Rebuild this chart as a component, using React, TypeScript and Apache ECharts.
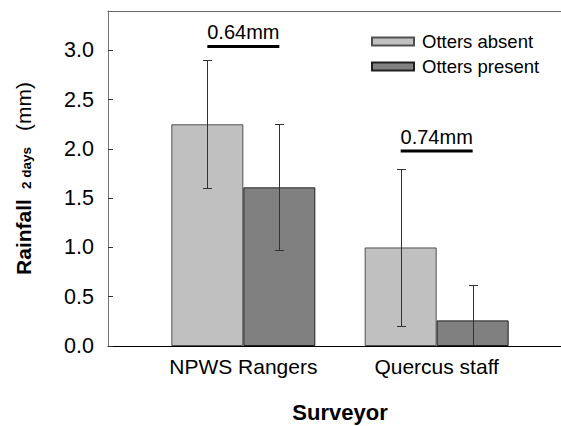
import React, { useEffect, useRef } from 'react';
import * as echarts from 'echarts';

// Surveyor groups, placed at x = 1, 2 on the base axis
const categories = ['NPWS Rangers', 'Quercus staff'];
const categoryPositions = [1, 2];

// Mean two-day rainfall (mm) and error bar extents
const absentMean = [2.25, 1.0];
const absentLower = [1.6, 0.2];
const absentUpper = [2.9, 1.8];
const presentMean = [1.61, 0.26];
const presentLower = [0.97, -0.1];
const presentUpper = [2.25, 0.62];

// Difference brackets between the two bars of each group
const differenceLabels = ['0.64mm', '0.74mm'];
const differenceLevels = [3.04, 1.98];

const yTicks = [0, 0.5, 1, 1.5, 2, 2.5, 3];

const BAR_WIDTH = 72;
const FONT = '"Liberation Sans", Arial, Helvetica, sans-serif';

const crisp = (v: number) => Math.round(v) + 0.5;

function errorBarRenderer(offset: number, color: string) {
  return (params: any, api: any) => {
    const x = api.value(0);
    const lo = api.coord([x, api.value(1)]);
    const hi = api.coord([x, api.value(2)]);
    const cx = crisp(lo[0] + offset);
    const yLo = crisp(lo[1]);
    const yHi = crisp(hi[1]);
    const cap = 4.5;
    const style = { stroke: color, lineWidth: 1 };
    return {
      type: 'group',
      children: [
        { type: 'line', shape: { x1: cx, y1: yLo, x2: cx, y2: yHi }, style },
        { type: 'line', shape: { x1: cx - cap, y1: yHi, x2: cx + cap, y2: yHi }, style },
        { type: 'line', shape: { x1: cx - cap, y1: yLo, x2: cx + cap, y2: yLo }, style },
      ],
    };
  };
}

function bracketRenderer(params: any, api: any) {
  const x = api.value(0);
  const p = api.coord([x, api.value(1)]);
  const half = BAR_WIDTH / 2;
  return {
    type: 'group',
    children: [
      {
        type: 'line',
        shape: { x1: p[0] - half, y1: p[1], x2: p[0] + half, y2: p[1] },
        style: { stroke: '#000', lineWidth: 3 },
      },
      {
        type: 'text',
        x: p[0],
        y: p[1] - 4,
        style: {
          text: differenceLabels[params.dataIndex],
          fontSize: 20,
          fontFamily: FONT,
          fill: '#000',
          textAlign: 'center',
          textVerticalAlign: 'bottom',
        },
      },
    ],
  };
}

export default function App() {
  const ref = useRef<HTMLDivElement>(null);

  useEffect(() => {
    if (!ref.current) return;
    const chart = echarts.init(ref.current, undefined, { renderer: 'svg' });

    const option: any = {
      animation: false,
      backgroundColor: '#fff',
      textStyle: { fontFamily: FONT },
      // the frame runs on past the right edge of the canvas
      grid: {
        left: 108,
        top: 11,
        width: 464,
        height: 335,
        containLabel: false,
        outerBoundsMode: 'none',
      },
      legend: {
        data: ['Otters absent', 'Otters present'],
        orient: 'vertical',
        left: 366,
        top: 27,
        icon: 'rect',
        itemWidth: 42,
        itemHeight: 8,
        itemGap: 6,
        textStyle: { fontSize: 18.5, color: '#000', fontFamily: FONT, padding: [0, 0, 0, 3] },
      },
      xAxis: [
        {
          type: 'value',
          min: 0.3,
          max: 2.7,
          position: 'bottom',
          axisLine: { show: true, lineStyle: { color: '#000', width: 1 } },
          axisTick: { show: false },
          splitLine: { show: false },
          axisLabel: {
            customValues: categoryPositions,
            formatter: (v: number) => categories[categoryPositions.indexOf(v)] ?? '',
            fontSize: 21,
            color: '#000',
            margin: 10,
            fontFamily: FONT,
          },
          name: 'Surveyor',
          nameLocation: 'middle',
          nameGap: 55,
          nameTextStyle: { fontSize: 22, fontWeight: 'bold', color: '#000', fontFamily: FONT },
        },
        {
          type: 'value',
          min: 0.3,
          max: 2.7,
          position: 'top',
          axisLine: { show: true, lineStyle: { color: '#666', width: 1 } },
          axisTick: { show: false },
          axisLabel: { show: false },
          splitLine: { show: false },
        },
      ],
      yAxis: {
        type: 'value',
        min: 0,
        max: 3.4,
        axisLine: { show: true, lineStyle: { color: '#777', width: 1 } },
        axisTick: {
          show: true,
          inside: true,
          length: 5,
          customValues: yTicks,
          lineStyle: { color: '#333' },
        },
        splitLine: { show: false },
        axisLabel: {
          customValues: yTicks,
          formatter: (v: number) => v.toFixed(1),
          fontSize: 21.5,
          color: '#000',
          margin: 14,
          fontFamily: FONT,
        },
        name: '{b|Rainfall}{s|2 days}{n|(mm)}',
        nameLocation: 'middle',
        nameRotate: 90,
        nameGap: 74,
        nameTextStyle: {
          fontFamily: FONT,
          rich: {
            b: { fontSize: 21, fontWeight: 'bold', color: '#000', fontFamily: FONT },
            s: {
              fontSize: 13.5,
              fontWeight: 'bold',
              color: '#000',
              fontFamily: FONT,
              verticalAlign: 'middle',
              padding: [5, 16, 0, 10],
            },
            n: { fontSize: 21, color: '#000', fontFamily: FONT },
          },
        },
      },
      series: [
        {
          name: 'Otters absent',
          type: 'bar',
          xAxisIndex: 0,
          data: categoryPositions.map((x, i) => [x, absentMean[i]]),
          barWidth: BAR_WIDTH,
          barGap: '0%',
          itemStyle: { color: '#c0c0c0', borderColor: '#505050', borderWidth: 1 },
        },
        {
          name: 'Otters present',
          type: 'bar',
          xAxisIndex: 0,
          data: categoryPositions.map((x, i) => [x, presentMean[i]]),
          barWidth: BAR_WIDTH,
          barGap: '0%',
          itemStyle: { color: '#808080', borderColor: '#202020', borderWidth: 1 },
        },
        {
          type: 'custom',
          xAxisIndex: 0,
          clip: true,
          z: 3,
          data: categoryPositions.map((x, i) => [x, absentLower[i], absentUpper[i]]),
          encode: { x: 0, y: [1, 2] },
          renderItem: errorBarRenderer(-BAR_WIDTH / 2, '#333'),
        },
        {
          type: 'custom',
          xAxisIndex: 0,
          clip: true,
          z: 3,
          data: categoryPositions.map((x, i) => [x, presentLower[i], presentUpper[i]]),
          encode: { x: 0, y: [1, 2] },
          renderItem: errorBarRenderer(BAR_WIDTH / 2, '#333'),
        },
        {
          type: 'custom',
          xAxisIndex: 0,
          clip: false,
          z: 4,
          data: categoryPositions.map((x, i) => [x, differenceLevels[i]]),
          encode: { x: 0, y: 1 },
          renderItem: bracketRenderer,
        },
      ],
    };

    chart.setOption(option);
    return () => chart.dispose();
  }, []);

  return (
    <div
      ref={ref}
      style={{ position: 'fixed', left: 0, top: 0, width: 561, height: 426, background: '#fff' }}
    />
  );
}
